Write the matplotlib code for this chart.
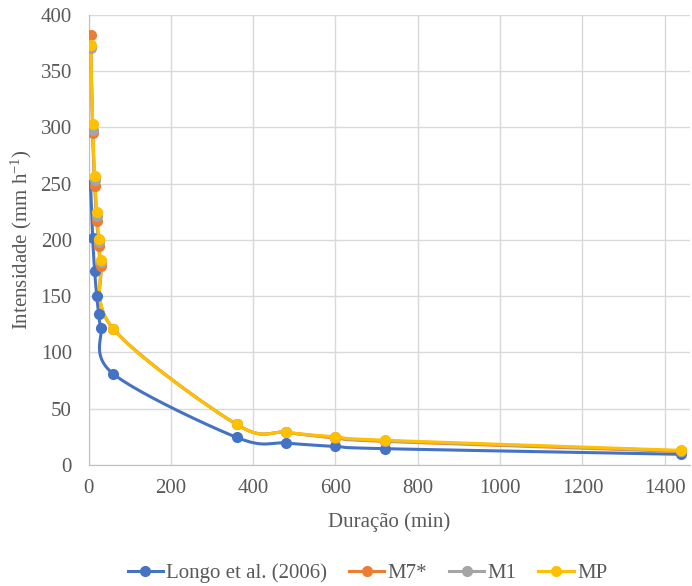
import numpy as np
import matplotlib
matplotlib.use("Agg")
import matplotlib.pyplot as plt

plt.rcParams['font.family'] = ['Liberation Serif', 'DejaVu Serif']
plt.rcParams['mathtext.fontset'] = 'custom'
plt.rcParams['mathtext.rm'] = 'Liberation Serif'
plt.rcParams['mathtext.it'] = 'Liberation Serif:italic'

# durations (min)
duracao = [5, 10, 15, 20, 25, 30, 60, 360, 480, 600, 720, 1440]

# intensities (mm/h)
longo = [249, 202, 172, 150, 134, 122, 81, 24.5, 19.5, 16.5, 14.5, 9.5]
m7 = [382, 295, 248, 217, 195, 177, 121, 36, 29, 24, 21, 12]
m1 = [371, 298, 253, 221, 198, 180, 121, 36, 29, 24.5, 21.5, 12.5]
mp = [373, 303, 257, 225, 201, 182, 121, 36, 29, 25, 22, 13]

series = [
    ("Longo et al. (2006)", longo, "#4472C4"),
    ("M7*", m7, "#ED7D31"),
    ("M1", m1, "#A5A5A5"),
    ("MP", mp, "#FFC000"),
]


def smooth(x, y, n=40):
    # Excel-like smoothed line: cubic Bezier with Catmull-Rom control points
    x = np.asarray(x, float)
    y = np.asarray(y, float)
    px, py = [], []
    for i in range(len(x) - 1):
        i0 = max(i - 1, 0)
        i3 = min(i + 2, len(x) - 1)
        c1x = x[i] + (x[i + 1] - x[i0]) / 6
        c1y = y[i] + (y[i + 1] - y[i0]) / 6
        c2x = x[i + 1] - (x[i3] - x[i]) / 6
        c2y = y[i + 1] - (y[i3] - y[i]) / 6
        t = np.linspace(0, 1, n)
        bx = (1 - t) ** 3 * x[i] + 3 * (1 - t) ** 2 * t * c1x + 3 * (1 - t) * t ** 2 * c2x + t ** 3 * x[i + 1]
        by = (1 - t) ** 3 * y[i] + 3 * (1 - t) ** 2 * t * c1y + 3 * (1 - t) * t ** 2 * c2y + t ** 3 * y[i + 1]
        px.extend(bx)
        py.extend(by)
    return px, py


fig = plt.figure(figsize=(6.92, 5.86), dpi=100)
ax = fig.add_axes([0.1279, 0.2065, 0.8691, 0.768])

for label, vals, color in series:
    sx, sy = smooth(duracao, vals)
    ax.plot(sx, sy, color=color, linewidth=2.2, zorder=3)
    ax.plot(duracao, vals, 'o', color=color, markersize=7, zorder=4)
    ax.plot([], [], '-o', color=color, linewidth=2.2, markersize=7, label=label)

ax.set_xlim(0, 1461)
ax.set_ylim(0, 400)
ax.set_xticks(range(0, 1401, 200))
ax.set_yticks(range(0, 401, 50))
ax.grid(True, color='#D9D9D9', linewidth=1)
ax.set_axisbelow(True)
for s in ['top', 'right']:
    ax.spines[s].set_visible(False)
for s in ['left', 'bottom']:
    ax.spines[s].set_color('#BFBFBF')
ax.tick_params(length=0, labelsize=15, colors='#595959')
ax.tick_params(axis='x', pad=10)
ax.tick_params(axis='y', pad=12)

ax.set_xlabel('Duração (min)', fontsize=15, color='#595959', labelpad=10)
ax.set_ylabel('Intensidade (mm h$^{-1}$)', fontsize=15, color='#595959', labelpad=5)

fig.legend(loc='center', bbox_to_anchor=(0.531, 0.022), ncol=4, frameon=False,
           fontsize=15, labelcolor='#595959', handlelength=1.7, columnspacing=1.05,
           handletextpad=0.15, borderaxespad=0)

fig.savefig('out.png', dpi=100)
